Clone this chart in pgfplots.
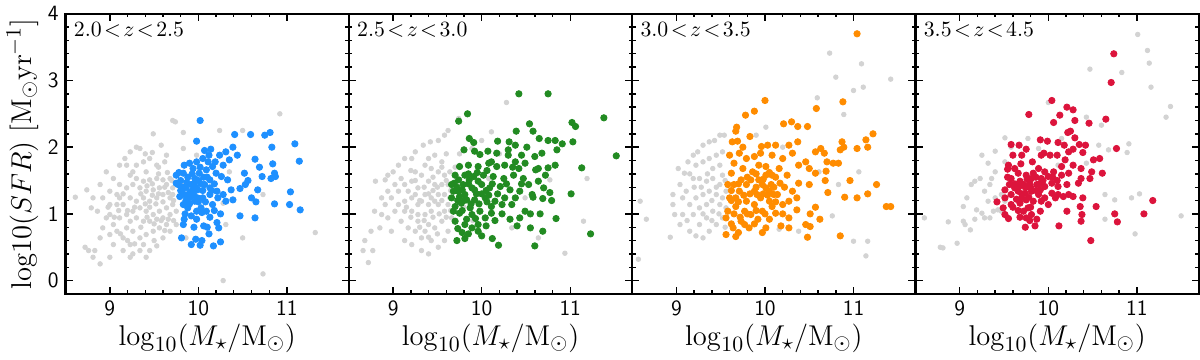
\documentclass[border=0pt]{standalone}
\usepackage{pgfplots}
\pgfplotsset{compat=1.18}
\usepgfplotslibrary{groupplots}

\definecolor{sgrey}{RGB}{211,211,211}
\definecolor{sblue}{RGB}{30,144,255}
\definecolor{sgreen}{RGB}{34,139,34}
\definecolor{sorange}{RGB}{255,140,0}
\definecolor{sred}{RGB}{220,20,60}

\pgfplotsset{
  bgpts/.style={only marks, mark=*, mark size=1.15pt, color=sgrey, mark options={draw=none, fill=sgrey}},
  fgpts/.style={only marks, mark=*, mark size=1.6pt, color=#1, mark options={draw=none, fill=#1}},
}
\newcommand{\zlab}[1]{\node[anchor=north west, inner sep=0pt, font=\fontsize{11}{13}\selectfont] at ([xshift=4pt,yshift=-4pt]rel axis cs:0,1) {#1};}

\begin{document}
\begin{tikzpicture}
\begin{groupplot}[
  group style={group size=4 by 1, horizontal sep=0pt, yticklabels at=edge left},
  scale only axis,
  width=142.6pt, height=141pt,
  xmin=8.5, xmax=11.7, ymin=-0.2, ymax=4,
  xtick={9,10,11}, ytick={0,1,2,3,4},
  minor x tick num=4, minor y tick num=4,
  tick align=inside, tick pos=both,
  major tick length=3.6pt, minor tick length=1.8pt,
  axis line style={line width=1.2pt},
  every tick/.style={black, line width=0.7pt},
  tick label style={font=\sffamily\fontsize{11}{13}\selectfont},
  /pgf/number format/assume math mode=true,
  xlabel={$\log_{10}(M_\star/\mathrm{M}_\odot)$},
  label style={font=\fontsize{15}{18}\selectfont},
  xlabel style={yshift=3pt},
  clip=true,
]
% ---- 2.0 < z < 2.5
\nextgroupplot[ylabel={$\mathrm{log10}(SFR)\ [\mathrm{M}_\odot\mathrm{yr}^{-1}]$}, ylabel style={yshift=-2pt}]
\addplot[bgpts] coordinates {
(8.61,1.25)(8.74,1.36)(8.72,0.50)(8.76,0.45)(8.83,0.45)(8.89,0.25)(8.81,0.35)(8.89,0.64)(9.00,0.69)(8.79,1.09)(8.86,1.04)(8.81,1.24)(8.89,1.44)(8.96,1.63)(9.04,1.53)(9.11,1.73)(9.17,1.83)(9.23,1.93)(9.30,2.00)(9.34,1.98)(9.49,2.20)(9.58,2.03)(9.71,2.40)(9.74,2.38)(9.83,2.22)(10.24,2.25)(10.50,2.25)(10.92,2.50)(10.73,1.29)(10.50,0.64)(10.73,0.10)(10.28,0.00)(11.32,0.72)(10.28,1.16)(9.83,1.98)(9.64,1.88)(9.53,1.73)(9.41,1.63)(9.26,1.63)(9.11,1.44)(9.08,1.29)(9.00,1.14)(8.96,0.94)(9.04,0.84)(9.08,0.74)(9.15,0.64)(9.23,0.54)(9.34,0.45)(9.38,0.54)(9.45,0.45)(9.53,0.52)(9.60,0.64)(9.68,0.74)(9.75,0.84)(9.64,0.84)(9.56,0.79)(9.49,0.74)(9.41,0.69)(9.34,0.64)(9.26,0.74)(9.19,0.79)(9.11,0.94)(9.19,0.99)(9.26,1.04)(9.34,1.09)(9.41,1.04)(9.49,0.99)(9.56,1.04)(9.64,1.09)(9.71,1.14)(9.68,1.24)(9.60,1.29)(9.53,1.24)(9.45,1.19)(9.38,1.24)(9.30,1.19)(9.23,1.24)(9.15,1.14)(9.23,0.89)(9.30,0.94)(9.38,0.89)(9.45,0.89)(9.53,0.92)(9.60,0.94)(9.68,0.99)(9.75,1.04)(9.64,1.44)(9.56,1.39)(9.49,1.36)(9.41,1.34)(9.34,1.39)(9.26,1.44)(9.19,1.39)(9.60,1.51)(9.68,1.53)(9.71,1.39)(9.71,1.29)(9.53,1.53)(9.45,1.51)(9.38,1.49)(9.30,1.53)(9.23,1.58)(9.30,1.73)(9.38,1.78)(9.45,1.83)(9.19,1.73)(9.08,1.14)(8.92,1.24)(9.00,1.34)(9.11,1.24)(9.00,0.99)(8.92,0.79)(9.04,0.54)(9.15,0.45)(9.23,0.35)(9.26,0.40)(9.41,0.35)(9.00,0.35)(9.83,1.44)(10.35,1.63)(9.98,1.88)(9.86,0.64)(10.31,0.84)
(9.45,1.10)(9.52,1.15)(9.60,1.18)(9.66,1.32)(9.62,1.40)(9.55,1.30)(9.48,1.28)(9.40,1.15)(9.35,1.30)(9.28,1.10)(9.20,1.05)(9.15,1.30)(9.35,0.80)(9.42,0.95)(9.50,0.85)(9.58,0.90)(9.66,0.92)(9.72,1.20)(9.70,1.50)(9.65,1.62)(9.55,1.60)(9.48,1.45)(9.42,1.42)(9.10,1.05)(9.05,0.95)(8.98,1.10)(9.12,0.70)(9.20,0.60)(9.28,0.55)(9.50,0.60)(9.62,0.75)(9.72,0.90)(9.55,1.70)(9.62,1.78)(9.48,1.92)(9.40,1.90)
};
\addplot[fgpts=sblue] coordinates {
(10.02,2.40)(9.98,2.09)(10.41,2.19)(10.59,2.19)(10.75,2.18)(10.81,2.22)(11.09,2.05)(11.14,1.79)(10.83,2.00)(10.39,2.00)(10.44,1.88)(10.64,1.82)(10.69,1.70)(10.72,1.56)(10.84,1.75)(10.86,1.61)(10.82,1.53)(10.87,1.56)(10.52,1.61)(10.56,1.50)(10.53,1.44)(10.47,1.38)(10.67,1.36)(10.60,1.24)(10.65,1.18)(10.86,1.15)(11.04,1.33)(11.03,1.14)(11.15,1.06)(10.47,0.97)(10.64,0.94)(10.37,1.36)(10.39,1.21)(10.33,1.51)(10.28,1.73)(10.35,1.81)(10.24,1.88)(10.14,1.97)(10.12,1.88)(10.05,1.83)(9.98,1.78)(9.84,1.73)(9.83,1.61)(9.75,1.58)(9.77,1.44)(9.79,1.26)(9.83,1.14)(9.84,0.92)(9.83,0.84)(9.81,0.64)(9.92,0.54)(10.02,0.53)(10.04,0.60)(10.17,0.52)(10.25,0.58)(10.23,0.79)(10.21,0.87)(10.13,0.95)(10.06,0.82)(9.98,0.92)(9.92,0.97)(10.09,1.04)(10.16,1.14)(10.25,1.00)(10.31,1.19)(10.21,1.34)(10.13,1.29)(10.05,1.24)(9.96,1.19)(9.90,1.31)(9.92,1.44)(9.96,1.53)(10.01,1.61)(10.09,1.66)(10.16,1.71)(10.20,1.61)(10.26,1.56)(10.13,1.51)(10.07,1.44)(9.99,1.36)(9.86,1.39)(9.90,1.24)(9.84,1.29)(9.99,1.24)(10.13,1.39)(10.28,1.29)(10.22,1.24)(10.03,1.09)(9.88,1.09)(9.98,1.04)(9.94,1.68)(9.90,1.76)(10.11,1.78)(10.19,1.78)(9.75,1.46)(10.07,1.95)(10.31,1.93)
(9.95,1.45)(10.00,1.50)(9.88,1.55)(10.05,1.35)(9.93,1.35)(10.10,1.55)(9.80,1.50)(9.85,1.00)(10.10,0.80)(9.95,0.80)(10.18,1.45)
(9.82,1.40)(9.87,1.47)(9.93,1.60)(9.97,1.40)(10.03,1.45)(10.06,1.55)(9.90,1.15)(9.95,1.28)(10.00,1.18)(10.08,1.18)(10.15,1.35)(9.80,1.35)(9.86,1.20)(10.02,1.70)(10.04,1.02)(9.97,0.62)(10.12,0.70)(10.18,1.05)(9.78,1.62)
};
\zlab{$2.0\!<\!z\!<\!2.5$}

% ---- 2.5 < z < 3.0
\nextgroupplot
\addplot[bgpts] coordinates {
(8.68,0.60)(8.72,0.27)(8.66,0.45)(8.77,0.45)(8.85,0.79)(8.80,1.49)(8.91,1.51)(8.94,1.58)(9.00,1.63)(9.06,1.73)(9.13,1.83)(9.21,1.83)(9.25,1.93)(9.34,2.03)(9.42,2.08)(9.51,2.10)(9.58,2.18)(9.62,2.25)(9.74,2.43)(10.11,2.23)(10.28,2.67)(10.94,0.41)(11.15,0.89)(11.19,1.53)(10.64,0.64)(9.06,1.34)(9.13,1.19)(9.21,1.04)(9.28,0.89)(9.36,0.74)(9.43,0.60)(9.51,0.50)(9.58,0.60)(9.62,0.74)(9.13,0.60)(9.21,0.54)(8.98,0.74)(8.94,0.94)(9.02,1.04)(8.98,1.24)(8.91,1.14)(8.87,0.99)(9.09,0.89)(9.17,0.79)(9.25,0.74)(9.32,0.64)(9.40,0.84)(9.47,0.79)(9.55,0.89)(9.58,1.04)(9.51,1.14)(9.43,1.04)(9.36,0.99)(9.28,1.14)(9.21,1.24)(9.13,1.44)(9.21,1.49)(9.28,1.39)(9.36,1.29)(9.43,1.24)(9.51,1.29)(9.58,1.29)(9.55,1.44)(9.47,1.44)(9.40,1.49)(9.32,1.58)(9.25,1.63)(9.36,1.73)(9.43,1.68)(9.51,1.63)(9.58,1.58)(9.55,1.78)(9.47,1.88)(9.40,1.83)(9.32,1.19)(9.40,1.14)(9.47,1.19)(9.62,1.14)(9.62,1.44)(9.28,0.99)(9.13,1.04)(9.06,1.14)(9.25,1.29)(9.17,1.34)(9.09,1.53)(9.02,1.44)(8.94,1.34)(8.87,1.24)(8.79,1.04)(8.75,0.74)(9.32,0.45)(9.40,0.40)(9.66,0.94)(9.64,1.24)(9.64,1.63)(10.34,0.79)(10.49,1.24)(10.77,1.51)(10.08,1.53)(9.89,1.98)
(9.45,1.35)(9.50,1.40)(9.55,1.20)(9.40,1.30)(9.35,1.40)(9.30,1.20)(9.45,0.95)(9.52,1.00)(9.60,0.95)(9.65,1.05)(9.35,0.90)(9.30,0.80)(9.20,0.95)(9.15,1.10)(9.25,1.50)(9.45,1.55)(9.60,1.50)(9.65,1.35)(9.50,0.70)(9.40,0.65)(9.55,1.70)(9.60,1.90)(9.20,1.65)
(9.70,1.70)(9.75,1.90)(9.85,1.50)(9.80,1.10)(9.90,0.90)(10.20,1.90)(10.00,2.10)
};
\addplot[fgpts=sgreen] coordinates {
(10.42,2.80)(10.75,2.80)(9.84,2.50)(9.74,2.39)(11.38,2.44)(11.52,1.87)(11.02,2.37)(11.06,2.31)(11.03,2.08)(11.13,1.69)(11.01,1.30)(11.23,0.70)(10.60,0.52)(10.69,0.74)(10.84,0.93)(10.79,1.20)(10.77,1.32)(10.66,1.00)(10.58,1.25)(10.69,1.23)(10.54,2.35)(10.58,2.24)(10.39,2.24)(10.18,2.09)(10.31,2.08)(10.38,2.03)(10.51,2.00)(10.65,2.13)(10.75,2.10)(10.83,2.10)(10.91,2.05)(10.85,1.96)(10.68,1.91)(10.60,1.86)(10.45,1.88)(10.30,1.88)(10.17,1.91)(10.07,1.94)(9.92,1.94)(9.86,2.13)(9.80,1.96)(9.91,2.07)(9.98,1.89)(10.83,1.73)(10.75,1.69)(10.64,1.68)(10.61,1.66)(10.72,1.58)(10.49,1.76)(10.38,1.78)(10.26,1.73)(10.17,1.71)(10.08,1.76)(9.96,1.71)(9.85,1.73)(9.75,1.71)(9.70,1.58)(9.66,1.44)(9.66,1.24)(9.68,1.04)(9.70,0.89)(9.72,0.60)(9.81,0.63)(9.78,0.72)(9.89,0.79)(10.00,0.67)(10.12,0.63)(10.19,0.53)(10.04,0.94)(9.96,0.84)(9.83,0.92)(9.75,1.01)(9.87,1.09)(9.98,1.04)(10.11,1.01)(10.23,1.00)(10.32,0.92)(10.40,0.82)(10.43,0.94)(10.55,0.79)(10.55,1.00)(10.49,1.04)(10.34,1.14)(10.26,1.24)(10.15,1.19)(10.04,1.24)(9.92,1.21)(9.81,1.29)(9.74,1.34)(9.79,1.44)(9.89,1.39)(10.00,1.44)(10.09,1.39)(10.21,1.41)(10.32,1.36)(10.43,1.34)(10.53,1.44)(10.47,1.53)(10.36,1.58)(10.25,1.53)(10.13,1.56)(10.02,1.58)(9.91,1.56)(9.81,1.58)(9.74,1.51)(9.86,1.51)(9.96,1.49)(9.77,1.16)(9.70,1.11)(9.89,0.99)(10.11,1.11)(10.23,1.14)(10.38,1.24)(10.00,1.30)(9.92,1.36)(10.08,1.28)(9.83,1.21)(9.75,1.26)(9.68,1.34)(9.69,1.46)(10.11,1.78)(9.81,0.84)(9.96,0.74)(10.64,1.49)(10.57,1.29)(10.70,1.39)(10.42,1.68)(10.30,1.96)
(9.72,1.40)(9.78,1.36)(9.85,1.45)(9.94,1.30)(10.05,1.35)(10.12,1.45)(9.80,1.20)(9.88,1.15)(9.97,1.15)(10.06,1.18)(9.73,1.20)(9.85,1.60)(9.95,1.62)(10.06,1.65)(10.18,1.30)(9.78,1.05)(9.93,0.93)(10.15,0.90)(10.28,1.45)(10.35,1.70)(10.45,1.45)(9.73,0.78)(9.85,0.70)(10.05,0.82)
};
\zlab{$2.5\!<\!z\!<\!3.0$}

% ---- 3.0 < z < 3.5
\nextgroupplot
\addplot[bgpts] coordinates {
(8.59,1.19)(8.57,0.32)(8.66,0.92)(8.93,0.65)(8.96,1.14)(8.96,1.29)(9.02,1.68)(9.09,1.61)(9.13,1.78)(9.19,1.88)(9.24,1.93)(9.30,2.03)(9.37,2.08)(9.43,2.10)(9.49,2.18)(9.54,2.18)(9.04,1.44)(9.11,1.34)(9.15,1.14)(9.07,0.99)(9.04,0.84)(9.15,0.74)(9.22,0.67)(9.30,0.64)(9.37,0.74)(9.45,0.84)(9.52,0.94)(9.49,1.14)(9.41,1.04)(9.34,0.94)(9.26,0.84)(9.19,0.99)(9.22,1.24)(9.30,1.29)(9.37,1.34)(9.45,1.29)(9.52,1.24)(9.49,1.44)(9.41,1.53)(9.34,1.49)(9.26,1.53)(9.19,1.53)(9.22,1.73)(9.30,1.78)(9.37,1.83)(9.45,1.88)(9.52,1.93)(9.49,1.73)(9.41,1.68)(9.52,1.58)(9.34,1.14)(9.26,1.09)(9.56,1.09)(9.56,1.34)(9.07,1.24)(8.98,0.99)(10.73,3.41)(11.09,3.25)(10.80,3.05)(11.11,2.90)(11.00,2.85)(11.42,3.02)(10.59,2.74)(10.89,2.49)(10.01,2.30)(9.90,2.18)(10.20,2.00)(10.61,1.63)(11.00,0.59)(11.14,0.37)(11.16,0.59)(10.38,0.74)(10.16,0.77)(10.76,0.97)(11.06,1.63)(10.83,1.44)
(9.40,1.20)(9.45,1.40)(9.35,1.60)(9.28,1.40)(9.20,1.40)(9.15,1.60)(9.55,1.50)(9.40,0.90)(9.30,1.00)(9.12,0.90)(9.48,1.00)(9.55,0.80)
};
\addplot[fgpts=sorange] coordinates {
(11.04,3.70)(10.00,2.70)(9.88,2.54)(9.78,2.48)(10.88,2.68)(10.58,2.58)(10.21,2.35)(10.30,2.38)(10.37,2.31)(10.48,2.31)(9.68,2.30)(9.67,2.24)(9.83,2.16)(9.63,2.08)(9.69,2.09)(9.75,2.00)(11.22,2.20)(11.14,2.11)(11.04,1.98)(11.16,2.00)(10.87,2.08)(10.89,2.00)(10.85,1.96)(10.67,1.91)(10.57,1.93)(10.63,1.98)(10.37,2.08)(10.27,2.03)(10.12,2.03)(10.03,2.03)(9.96,2.01)(9.95,1.91)(10.08,1.88)(10.20,1.83)(10.31,1.91)(10.46,1.78)(10.70,1.78)(10.77,1.76)(10.83,1.76)(10.69,1.64)(10.57,1.61)(10.50,1.68)(10.38,1.73)(10.68,1.50)(10.50,1.44)(10.38,1.46)(10.96,1.50)(11.26,1.44)(11.16,1.30)(11.04,1.24)(10.90,1.25)(10.71,1.32)(11.37,1.11)(11.42,1.11)(10.57,1.10)(10.51,1.00)(10.62,0.92)(10.46,0.84)(10.51,0.81)(10.48,0.65)(10.85,0.67)(10.36,1.06)(10.27,0.94)(10.18,0.82)(10.27,0.79)(9.67,0.66)(9.56,0.69)(9.56,0.94)(9.64,0.79)(9.73,0.89)(9.82,0.79)(9.92,0.92)(9.97,1.04)(10.05,0.92)(10.12,1.01)(10.20,1.14)(10.14,1.29)(10.07,1.44)(10.01,1.58)(9.93,1.73)(9.86,1.63)(9.75,1.68)(9.65,1.76)(9.60,1.88)(9.62,1.61)(9.58,1.44)(9.60,1.24)(9.58,1.04)(9.67,1.11)(9.77,1.04)(9.71,1.34)(9.79,1.44)(9.88,1.34)(9.95,1.24)(10.05,1.19)(10.01,1.39)(9.93,1.51)(9.84,1.51)(9.73,1.51)(9.65,1.44)(9.67,1.24)(9.79,1.19)(9.88,1.14)(9.84,0.99)(9.77,0.84)(10.01,0.79)(10.10,1.29)(10.17,1.46)(10.25,1.58)(10.16,1.68)(10.31,1.34)(10.36,1.24)(10.27,1.19)(9.88,1.86)(9.79,1.83)(9.71,1.91)(10.01,1.71)(10.08,1.58)(9.91,1.29)(9.97,1.44)(10.05,1.34)(10.08,1.11)
(9.62,1.20)(9.70,1.18)(9.76,1.28)(9.83,1.30)(9.90,1.40)(9.98,1.30)(10.03,1.28)(10.10,1.40)(9.62,1.35)(9.70,1.45)(9.80,1.55)(9.90,1.60)(9.98,1.52)(10.05,1.62)(10.12,1.55)(9.65,1.00)(9.72,0.95)(9.80,1.00)(9.90,1.05)(10.00,1.00)(10.12,1.18)(9.62,0.85)(9.70,0.72)(9.88,0.85)(9.97,0.72)(10.20,1.00)(10.22,1.40)
};
\zlab{$3.0\!<\!z\!<\!3.5$}

% ---- 3.5 < z < 4.5
\nextgroupplot
\addplot[bgpts] coordinates {
(8.78,0.50)(8.81,0.49)(8.97,0.56)(8.87,0.88)(9.04,0.89)(9.06,0.84)(9.12,0.76)(9.17,0.92)(9.19,1.06)(9.25,1.01)(9.28,0.94)(9.34,0.94)(9.38,1.04)(9.43,1.06)(9.47,1.04)(9.04,1.11)(9.08,1.24)(9.13,1.44)(9.17,1.49)(9.23,1.53)(9.28,1.34)(9.34,1.44)(9.36,1.53)(9.40,1.63)(9.25,1.88)(9.40,1.94)(9.51,2.14)(9.58,2.00)(9.32,1.76)(9.47,1.29)(9.51,1.19)(9.40,1.24)(9.32,1.19)(8.60,0.94)(10.47,3.17)(10.83,3.12)(11.01,3.69)(11.12,3.45)(11.14,3.26)(11.16,2.90)(11.38,2.61)(11.33,2.45)(10.00,2.67)(10.43,2.45)(10.60,2.33)(10.57,2.03)(10.68,1.96)(10.89,1.92)(10.91,2.05)(10.43,1.76)(10.64,1.29)(10.75,1.21)(10.94,1.24)(11.03,1.30)(10.64,0.92)(10.98,0.70)(11.50,0.97)(10.11,1.73)(9.89,1.98)(9.77,2.13)(9.51,1.78)(10.15,2.13)
};
\addplot[fgpts=sred] coordinates {
(10.74,3.40)(10.71,2.97)(10.04,2.70)(9.78,2.49)(10.21,2.60)(10.28,2.56)(10.13,2.48)(10.06,2.37)(10.30,2.40)(10.65,2.42)(10.46,2.36)(10.25,2.24)(10.22,2.22)(10.30,2.14)(9.91,2.11)(9.99,2.09)(9.58,2.04)(9.67,2.03)(9.75,1.97)(10.11,2.07)(10.18,2.03)(10.35,2.04)(10.42,2.03)(10.28,1.97)(10.23,1.93)(10.39,1.92)(10.77,1.98)(9.60,1.88)(9.95,1.91)(10.02,1.88)(10.10,1.88)(10.19,1.81)(10.28,1.73)(10.37,1.68)(10.51,1.81)(10.58,1.83)(9.69,1.75)(9.82,1.78)(9.89,1.68)(9.55,1.73)(9.54,1.67)(10.61,1.61)(10.49,1.63)(10.37,1.53)(10.47,1.53)(10.34,1.46)(10.23,1.61)(10.15,1.58)(10.06,1.63)(10.00,1.56)(9.92,1.53)(9.83,1.61)(9.75,1.58)(9.66,1.61)(9.58,1.53)(9.56,1.44)(9.51,1.36)(9.62,1.39)(9.72,1.44)(9.79,1.46)(9.87,1.44)(9.96,1.41)(10.04,1.46)(10.11,1.41)(10.21,1.44)(10.04,1.31)(9.96,1.24)(9.89,1.29)(9.81,1.34)(9.74,1.31)(9.66,1.34)(9.58,1.29)(9.51,1.24)(9.42,1.18)(9.49,1.09)(9.58,1.14)(9.68,1.16)(9.75,1.21)(9.70,1.24)(9.83,1.19)(9.77,1.09)(9.72,1.04)(9.51,0.99)(9.55,0.93)(9.75,0.94)(9.81,0.99)(9.87,0.92)(9.85,0.82)(9.74,0.80)(9.91,1.04)(10.08,1.24)(10.11,1.29)(10.17,1.26)(10.23,1.29)(10.28,1.26)(10.39,1.24)(10.36,1.11)(10.54,1.11)(10.21,1.04)(10.38,0.99)(10.37,0.89)(10.12,0.82)(10.48,0.60)(10.75,1.00)(10.78,0.88)(11.08,1.00)(11.18,1.20)(9.92,1.88)(9.70,1.88)(9.62,1.68)(9.96,1.63)(10.15,1.71)(9.81,1.53)(9.68,1.49)(9.91,1.36)(10.00,1.14)(9.92,1.19)
(9.62,1.45)(9.68,1.42)(9.74,1.40)(9.80,1.40)(9.86,1.35)(9.70,1.30)(9.78,1.25)(9.64,1.22)(9.60,1.10)(9.66,1.05)(9.80,1.10)(9.86,1.55)(9.94,1.50)(9.76,1.52)(9.90,1.45)(9.68,0.95)(9.79,0.90)(10.05,1.55)(10.10,1.50)(9.54,1.55)
};
\zlab{$3.5\!<\!z\!<\!4.5$}
\end{groupplot}
\end{tikzpicture}
\end{document}
